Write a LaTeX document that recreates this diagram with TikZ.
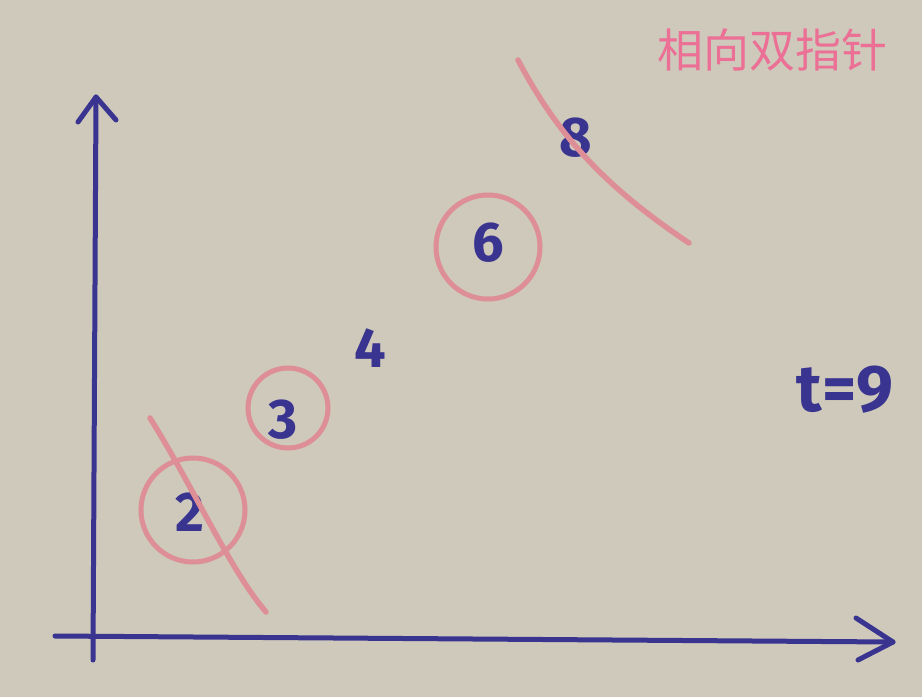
\documentclass[tikz,border=0pt]{standalone}
\usepackage{fontspec}
\setmainfont{Fira Sans}
\newfontfamily\cjk{Noto Sans CJK SC}
\usetikzlibrary{arrows.meta}
\definecolor{board}{RGB}{206,201,186}
\definecolor{ink}{RGB}{58,52,145}
\definecolor{marker}{RGB}{222,142,150}
\definecolor{titlepink}{RGB}{236,112,150}
\tikzset{
  axis/.style={draw=ink, line width=5pt, line cap=round, line join=round},
  num/.style={text=ink, font=\fontsize{56}{56}\selectfont\bfseries, inner sep=0pt},
  ring/.style={draw=marker, line width=5pt, circle, inner sep=0pt},
  strike/.style={draw=marker, line width=5.5pt, line cap=round},
}
\begin{document}
\begin{tikzpicture}[x=1pt,y=-1pt]
\fill[board] (0,0) rectangle (922,697);
\useasboundingbox (0,0) rectangle (922,697);
% axes
\coordinate (o1) at (93,660);
\coordinate (ytop) at (96,97);
\coordinate (o2) at (55,636);
\coordinate (xend) at (893,642);
\draw[axis] (o1) -- (ytop);
\draw[axis] (78,122) -- (ytop) -- (116,120);
\draw[axis] (o2) -- (xend);
\draw[axis] (856,618) -- (xend) -- (858,660);
% numbers
\node[num] (n2) at (190,512) {2};
\node[num] (n3) at (283,420) {3};
\node[num] (n4) at (370,348) {4};
\node[num] (n6) at (488,243) {6};
\node[num] (n8) at (576,138) {8};
\node[num, font=\fontsize{66}{66}\selectfont\bfseries] (t9) at (845,390) {t=9};
% rings
\node[ring, minimum size=104pt] (r2) at (193,510) {};
\node[ring, minimum size=80pt] (r3) at (288,408) {};
\node[ring, minimum size=104pt] (r6) at (488,247) {};
% strike-through lines
\draw[strike] (150,418) .. controls (195,490) and (230,570) .. (266,612);
\draw[strike] (518,60) .. controls (560,140) and (610,190) .. (689,243);
% title
\node[text=titlepink, font=\cjk\fontsize{46}{46}\selectfont, anchor=center] (title) at (772,50) {相向双指针};
\end{tikzpicture}
\end{document}
